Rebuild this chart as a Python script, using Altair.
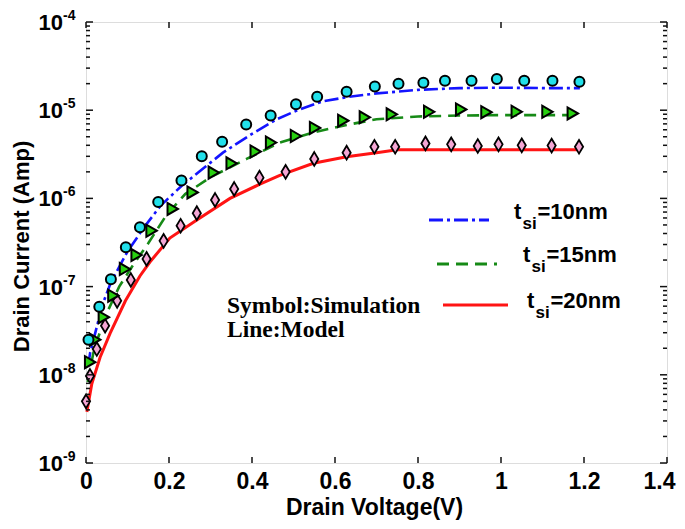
import altair as alt
import pandas as pd

# ---- simulation symbols ----
v10 = [0.006, 0.032, 0.06, 0.096, 0.13, 0.174, 0.23, 0.279, 0.328, 0.386, 0.445, 0.506,
       0.557, 0.628, 0.696, 0.753, 0.813, 0.865, 0.929, 0.99, 1.056, 1.124, 1.189]
i10 = [2.5e-8, 5.9e-8, 1.21e-7, 2.8e-7, 4.7e-7, 9.1e-7, 1.6e-6, 3.0e-6, 4.4e-6, 6.9e-6, 8.7e-6, 1.17e-5,
       1.42e-5, 1.62e-5, 1.86e-5, 1.99e-5, 2.05e-5, 2.16e-5, 2.16e-5, 2.26e-5, 2.16e-5, 2.16e-5, 2.1e-5]

v15 = [0.01, 0.022, 0.043, 0.066, 0.094, 0.122, 0.158, 0.209, 0.257, 0.308, 0.351, 0.409,
       0.446, 0.506, 0.552, 0.62, 0.672, 0.737, 0.827, 0.904, 0.965, 1.038, 1.112, 1.173]
i15 = [1.39e-8, 2.5e-8, 4.5e-8, 7.9e-8, 1.58e-7, 2.28e-7, 4.3e-7, 7.6e-7, 1.17e-6, 1.96e-6, 2.5e-6, 3.4e-6,
       4.3e-6, 5.1e-6, 6.3e-6, 7.6e-6, 8.3e-6, 8.97e-6, 9.6e-6, 1.02e-5, 9.5e-6, 9.6e-6, 9.6e-6, 9.2e-6]

v20 = [0.0, 0.0096, 0.026, 0.046, 0.075, 0.108, 0.146, 0.187, 0.228, 0.267, 0.311, 0.357, 0.418,
       0.481, 0.55, 0.628, 0.695, 0.745, 0.818, 0.88, 0.944, 0.994, 1.05, 1.122, 1.188]
i20 = [5.0e-9, 9.7e-9, 1.96e-8, 3.6e-8, 6.9e-8, 1.19e-7, 2.06e-7, 3.3e-7, 4.9e-7, 6.8e-7, 9.6e-7, 1.28e-6, 1.72e-6,
       2.0e-6, 2.8e-6, 3.3e-6, 3.85e-6, 3.85e-6, 4.2e-6, 4.1e-6, 3.93e-6, 4.1e-6, 4.0e-6, 3.97e-6, 3.85e-6]

# ---- model lines ----
m10_v = [0.005, 0.01, 0.022, 0.04, 0.06, 0.1, 0.14, 0.18, 0.23, 0.28, 0.33, 0.40, 0.46, 0.51,
         0.57, 0.63, 0.70, 0.80, 0.90, 1.0, 1.1, 1.19]
m10_i = [1.26e-8, 1.78e-8, 2.95e-8, 6.3e-8, 1.12e-7, 2.5e-7, 4.7e-7, 8.3e-7, 1.38e-6, 2.14e-6, 3.3e-6, 5.4e-6,
         7.9e-6, 1.0e-5, 1.26e-5, 1.41e-5, 1.55e-5, 1.7e-5, 1.78e-5, 1.8e-5, 1.78e-5, 1.78e-5]

m15_v = [0.004, 0.02, 0.05, 0.08, 0.11, 0.15, 0.194, 0.239, 0.30, 0.387, 0.467, 0.548, 0.628,
         0.70, 0.80, 0.90, 1.0, 1.1, 1.19]
m15_i = [8.3e-9, 2.0e-8, 5.0e-8, 1.0e-7, 1.66e-7, 3.1e-7, 6.5e-7, 1.12e-6, 1.74e-6, 2.8e-6, 4.3e-6, 5.6e-6, 6.8e-6,
         7.9e-6, 8.5e-6, 8.7e-6, 8.8e-6, 8.8e-6, 8.8e-6]

m20_v = [0.002, 0.014, 0.034, 0.058, 0.095, 0.13, 0.154, 0.202, 0.267, 0.347, 0.419, 0.467, 0.548,
         0.628, 0.70, 0.75, 0.9, 1.05, 1.19]
m20_i = [3.8e-9, 7.9e-9, 1.58e-8, 2.95e-8, 6.9e-8, 1.32e-7, 1.9e-7, 3.55e-7, 5.7e-7, 1.0e-6, 1.45e-6, 1.82e-6, 2.5e-6,
         2.97e-6, 3.3e-6, 3.55e-6, 3.55e-6, 3.55e-6, 3.55e-6]

# ---- axes ----
x_ticks = [0, 0.2, 0.4, 0.6, 0.8, 1.0, 1.2, 1.4]
y_exps = [-9, -8, -7, -6, -5, -4]
minor_mult = [2, 3, 4, 5, 6, 7, 8, 9]
legend_labels = ["=10nm", "=15nm", "=20nm"]
note_lines = ["Symbol:Simulation", "Line:Model"]

W, H = 581, 441
SANS = "Liberation Sans"
SERIF = "Liberation Serif"

xscale = alt.Scale(domain=[0, 1.4], nice=False, zero=False)
yscale = alt.Scale(type="log", domain=[1e-9, 1e-4], nice=False)

xaxis = alt.Axis(values=x_ticks, format=".1~f", labelFont=SANS, labelFontSize=23,
                 labelFontWeight="bold", labelColor="black", labelPadding=7,
                 labelOffset={"condition": {"test": "datum.value >= 1.39", "value": -8}, "value": 0},
                 ticks=False, tickSize=0, domain=False, grid=False, labelFlush=False,
                 title="Drain Voltage(V)", titleFont=SANS, titleFontSize=23,
                 titleFontWeight="bold", titleColor="black", titleX=288, titleY=51,
                 titleAlign="center", titleBaseline="alphabetic")
yaxis = alt.Axis(labels=False, ticks=False, tickSize=0, domain=False, grid=False,
                 title="Drain Current (Amp)", titleFont=SANS, titleFontSize=22,
                 titleFontWeight="bold", titleColor="black", titleX=-58, titleY=224,
                 titleAngle=270, titleAlign="center", titleBaseline="alphabetic")


def X(f):
    return alt.X(f, type="quantitative", scale=xscale, axis=xaxis)


def Y(f):
    return alt.Y(f, type="quantitative", scale=yscale, axis=yaxis)


sim10 = pd.DataFrame({"v": v10, "i": i10})
sim15 = pd.DataFrame({"v": v15, "i": i15})
sim20 = pd.DataFrame({"v": v20, "i": i20})
mod10 = pd.DataFrame({"v": m10_v, "i": m10_i})
mod15 = pd.DataFrame({"v": m15_v, "i": m15_i})
mod20 = pd.DataFrame({"v": m20_v, "i": m20_i})

BLUE, GREEN, RED = "#1414ff", "#168a16", "#ff1414"

line10 = alt.Chart(mod10).mark_line(color=BLUE, strokeWidth=2.6, strokeDash=[14, 4, 3, 4]).encode(
    x=X("v"), y=Y("i"))
line15 = alt.Chart(mod15).mark_line(color=GREEN, strokeWidth=2.6, strokeDash=[12, 7]).encode(
    x=X("v"), y=Y("i"))
line20 = alt.Chart(mod20).mark_line(color=RED, strokeWidth=3).encode(
    x=X("v"), y=Y("i"))

pts10 = alt.Chart(sim10).mark_point(shape="circle", filled=True, fill="#22e0ea", stroke="black",
                                    strokeWidth=2, size=100, opacity=1).encode(x=X("v"), y=Y("i"))
pts15 = alt.Chart(sim15).mark_point(shape="triangle-right", filled=True, fill="#28d010", stroke="black",
                                    strokeWidth=2, size=145, opacity=1).encode(x=X("v"), y=Y("i"))
pts20 = alt.Chart(sim20).mark_point(shape="M0,-1.25L0.75,0L0,1.25L-0.75,0Z", filled=True, fill="#f4a6d4",
                                    stroke="black", strokeWidth=1.8, size=120, opacity=1).encode(
    x=X("v"), y=Y("i"))

# ---- inner ticks on all four sides ----
xt = pd.DataFrame({"t": x_ticks})
yt = pd.DataFrame({"t": [10.0 ** e for e in y_exps]})
ym = pd.DataFrame({"t": [m * 10.0 ** e for e in y_exps[:-1] for m in minor_mult]})

tick_style = dict(color="#111", strokeWidth=1.5)
xt_bot = alt.Chart(xt).mark_rule(**tick_style).encode(x=X("t"), y=alt.value(H), y2=alt.value(H - 6))
xt_top = alt.Chart(xt).mark_rule(**tick_style).encode(x=X("t"), y=alt.value(0), y2=alt.value(6))
yt_l = alt.Chart(yt).mark_rule(**tick_style).encode(y=Y("t"), x=alt.value(0), x2=alt.value(7))
yt_r = alt.Chart(yt).mark_rule(**tick_style).encode(y=Y("t"), x=alt.value(W), x2=alt.value(W - 7))
ym_l = alt.Chart(ym).mark_rule(**tick_style).encode(y=Y("t"), x=alt.value(0), x2=alt.value(4))
ym_r = alt.Chart(ym).mark_rule(**tick_style).encode(y=Y("t"), x=alt.value(W), x2=alt.value(W - 4))

# ---- y tick labels 10^n ----
ylab = pd.DataFrame({"t": [10.0 ** e for e in y_exps], "sup": [str(e) for e in y_exps]})
ylab_base = alt.Chart(ylab).mark_text(text="10", font=SANS, fontSize=22, fontWeight="bold",
                                      color="black", align="right", baseline="middle", dy=1).encode(
    y=Y("t"), x=alt.value(-23))
ylab_sup = alt.Chart(ylab).mark_text(font=SANS, fontSize=14, fontWeight="bold", color="black",
                                     align="left", baseline="top", dy=-13).encode(
    y=Y("t"), x=alt.value(-23), text="sup:N")

# ---- legend ----
leg = []
leg_line_x = [(343, 403), (351, 411), (357, 422)]
leg_line_y = [198, 242, 283]
leg_text_x = [428, 437, 441]
leg_base_y = [197, 240, 286]
leg_colors = [BLUE, GREEN, RED]
leg_dash = [[14, 4, 3, 4], [12, 7], [1, 0]]
for k in range(3):
    d = pd.DataFrame({"lab": [legend_labels[k]]})
    leg.append(alt.Chart(d).mark_rule(color=leg_colors[k], strokeWidth=3, strokeDash=leg_dash[k]).encode(
        x=alt.value(leg_line_x[k][0]), x2=alt.value(leg_line_x[k][1]), y=alt.value(leg_line_y[k])))
    leg.append(alt.Chart(d).mark_text(text="t", font=SANS, fontSize=22, fontWeight="bold", color="black",
                                      align="left", baseline="alphabetic").encode(
        x=alt.value(leg_text_x[k]), y=alt.value(leg_base_y[k])))
    leg.append(alt.Chart(d).mark_text(text="si", font=SANS, fontSize=17, fontWeight="bold", color="black",
                                      align="left", baseline="alphabetic").encode(
        x=alt.value(leg_text_x[k] + 8.5), y=alt.value(leg_base_y[k] + 10)))
    leg.append(alt.Chart(d).mark_text(font=SANS, fontSize=22, fontWeight="bold", color="black",
                                      align="left", baseline="alphabetic").encode(
        x=alt.value(leg_text_x[k] + 23.5), y=alt.value(leg_base_y[k]), text="lab:N"))

notes = []
for k, line in enumerate(note_lines):
    d = pd.DataFrame({"lab": [line]})
    notes.append(alt.Chart(d).mark_text(font=SERIF, fontSize=23.5, fontWeight="bold", color="black",
                                        align="left", baseline="alphabetic").encode(
        x=alt.value(141), y=alt.value(291 + 24 * k), text="lab:N"))

chart = alt.layer(
    line20, line15, line10,
    pts20, pts15, pts10,
    xt_bot, xt_top, yt_l, yt_r, ym_l, ym_r,
    ylab_base, ylab_sup,
    *leg, *notes,
).properties(
    width=W, height=H,
    autosize=alt.AutoSizeParams(type="none"),
    padding={"left": 78, "top": 14, "right": 10, "bottom": 58},
).configure_view(
    stroke="#111", strokeWidth=2
).configure(background="white")

chart.save("out.html", embed_options={"renderer": "svg", "actions": False})
